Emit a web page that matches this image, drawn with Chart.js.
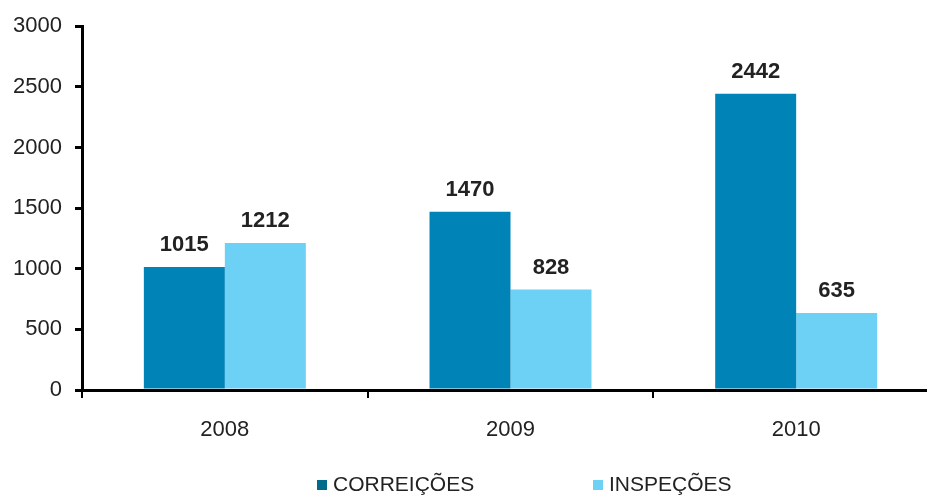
<!DOCTYPE html>
<html>
<head>
<meta charset="utf-8">
<script src="https://cdn.jsdelivr.net/npm/chart.js@4"></script>
<style>
  html, body { margin: 0; padding: 0; background: #fff; overflow: hidden; }
  #wrap { position: relative; width: 927px; height: 497px; overflow: hidden; }
  #wrap canvas { position: absolute; left: 0; top: 0; }
  .leg { position: absolute; top: 471px; font: 21px "Liberation Sans", Arial, sans-serif; color: #222; white-space: nowrap; line-height: 26px; }
  .leg span.sw { display: inline-block; width: 10px; height: 10px; margin-right: 6px; vertical-align: 1px; }
</style>
</head>
<body>
<div id="wrap">
  <canvas id="bar-chart" width="945" height="497" style="width:945px;height:497px"></canvas>
</div>
<script>
const years = ['2008', '2009', '2010'];
const correicoes = [1015, 1470, 2442];
const inspecoes = [1212, 828, 635];
const yTicks = [0, 500, 1000, 1500, 2000, 2500, 3000];

const seriesNames = ['CORREIÇÕES', 'INSPEÇÕES'];
const barColors = ['#0083B6', '#6DD0F5'];
const legendColors = ['#006B8A', '#6DD0F5'];
const legendLeft = [317, 593];

const fontFamily = '"Liberation Sans", Arial, sans-serif';

// value labels above each bar
const valueLabels = {
    id: 'valueLabels',
    afterDatasetsDraw(chart) {
        const ctx = chart.ctx;
        ctx.save();
        ctx.font = 'bold 22px ' + fontFamily;
        ctx.fillStyle = '#222';
        ctx.textAlign = 'center';
        ctx.textBaseline = 'middle';
        chart.data.datasets.forEach((ds, i) => {
            chart.getDatasetMeta(i).data.forEach((bar, j) => {
                ctx.fillText(String(ds.data[j]), bar.x, bar.y - 22);
            });
        });
        ctx.restore();
    }
};

const ctx = document.getElementById('bar-chart').getContext('2d');
const chart = new Chart(ctx, {
    type: 'bar',
    data: {
        labels: years,
        datasets: [
            { label: seriesNames[0], data: correicoes, backgroundColor: barColors[0], borderWidth: 0 },
            { label: seriesNames[1], data: inspecoes, backgroundColor: barColors[1], borderWidth: 0 }
        ]
    },
    options: {
        responsive: false,
        animation: false,
        layout: { padding: { top: 24, right: 6, left: 0, bottom: 0 } },
        datasets: { bar: { barPercentage: 1, categoryPercentage: 0.567 } },
        plugins: {
            legend: { display: false },
            tooltip: { enabled: false }
        },
        scales: {
            x: {
                afterFit: (scale) => { scale.height = 107; },
                border: { display: true, color: '#000', width: 3 },
                grid: { display: true, drawOnChartArea: false, drawTicks: true, tickLength: 8, color: '#000', lineWidth: 2 },
                ticks: { color: '#222', font: { family: fontFamily, size: 22 }, padding: 19 }
            },
            y: {
                min: 0,
                max: 3000,
                afterFit: (scale) => { scale.width = 82; },
                afterBuildTicks: (scale) => { scale.ticks = yTicks.map(v => ({ value: v })); },
                border: { display: true, color: '#000', width: 3 },
                grid: { display: true, drawOnChartArea: false, drawTicks: true, tickLength: 7, color: '#000', lineWidth: 3 },
                ticks: {
                    color: '#222',
                    font: { family: fontFamily, size: 22 },
                    padding: 13,
                    callback: (value) => String(value)
                }
            }
        }
    },
    plugins: [valueLabels]
});

// legend below the chart
const wrap = document.getElementById('wrap');
chart.data.datasets.forEach((ds, i) => {
    const item = document.createElement('div');
    item.className = 'leg';
    item.style.left = legendLeft[i] + 'px';
    item.innerHTML = '<span class="sw" style="background:' + legendColors[i] + '"></span>' + ds.label;
    wrap.appendChild(item);
});
</script>
</body>
</html>
